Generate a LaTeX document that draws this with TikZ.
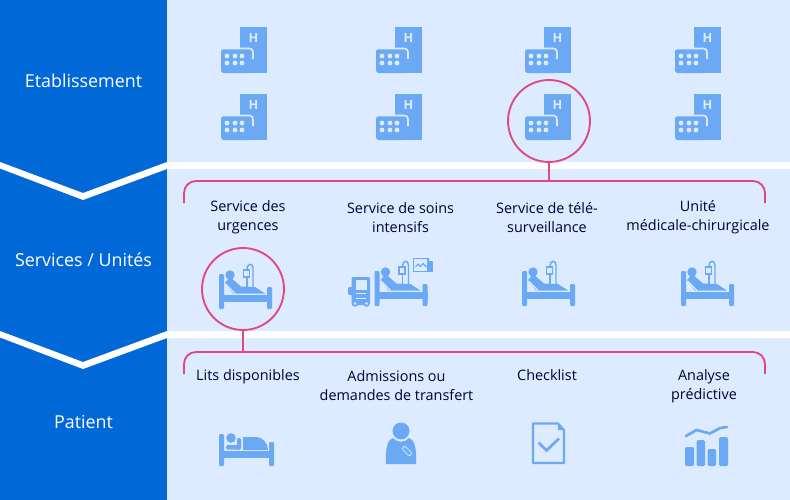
\documentclass[tikz,border=0pt]{standalone}
\usepackage{fontspec}
\setmainfont{Open Sans}
\definecolor{band}{HTML}{0069D7}
\definecolor{pale}{HTML}{DCEBFF}
\definecolor{icon}{HTML}{6BA9F5}
\definecolor{rose}{HTML}{E0487F}
\tikzset{
  x=.75pt,y=-.75pt,
  lab/.style={font=\fontsize{10.8pt}{14.2pt}\selectfont,text=black!78!blue,align=center,inner sep=0pt},
  head/.style={font=\fontsize{13.4pt}{15pt}\selectfont,text=white,align=center,inner sep=0pt},
  ring/.style={circle,draw=rose,line width=1.4pt,minimum size=61.5pt,inner sep=0pt},
  brace/.style={draw=rose,line width=1.4pt,rounded corners=9pt},
  hospital/.pic={
    \fill[icon] (19,0) rectangle (46,46);
    \fill[icon,rounded corners=2pt] (0,46) -- (0,22) -- (31,22) -- (31,46) -- cycle;
    \draw[pale,line width=1.2pt,rounded corners=2.5pt] (-.5,21.5) -- (32,21.5) -- (32,32);
    \node[font=\fontsize{9.5pt}{10pt}\bfseries\selectfont,text=pale,inner sep=0pt] at (32.5,11) {H};
    \foreach \px in {6,14,21} \foreach \py in {29,36} \fill[pale] (\px,\py) circle (2.4);
  },
  bedframe/.pic={
    \fill[icon,rounded corners=.8pt] (0,11) rectangle (5,46);
    \fill[icon,rounded corners=.8pt] (48,24) rectangle (53,46);
    \fill[icon] (0,32) rectangle (53,39);
    \fill[icon] (11,12) circle (4.7);
    \fill[icon] (6,20) -- (11,14) -- (22,23.5) -- (36,24) -- (46,30.5) -- (14,30.5) -- cycle;
    \draw[pale,line width=.8pt] (6.5,21) -- (16,30.5);
    \draw[icon,line width=1.1pt] (28,14) -- (28,26);
    \draw[icon,line width=1.1pt] (28,6) .. controls (28,0) and (34,0) .. (34,5) -- (34,25);
    \draw[icon,line width=1.1pt,fill=pale] (24.5,7) rectangle (30.5,14);
  },
  hbed/.pic={
    \fill[icon,rounded corners=.8pt] (0,0) rectangle (5,32);
    \fill[icon,rounded corners=.8pt] (50,8) rectangle (55,32);
    \fill[icon] (0,17) rectangle (55,24);
    \fill[icon] (12,4) circle (4.8);
    \fill[icon,rounded corners=1pt] (7,11) rectangle (22,15.5);
    \fill[icon,rounded corners=1pt] (18,4) rectangle (22,15.5);
    \fill[icon] (24,3) -- (36,3) .. controls (44,3) and (49,9) .. (49,16) -- (24,16) -- cycle;
  },
}
\begin{document}
\begin{tikzpicture}
\useasboundingbox (0,0) rectangle (790,500);
\fill[band] (0,0) rectangle (167,500);
\fill[pale] (167,0) rectangle (790,500);
% separators
\fill[white] (0,162) -- (83,193) -- (167,162) -- (790,162) -- (790,169) -- (167,169) -- (83,200) -- (0,168.5) -- cycle;
\fill[white] (0,331) -- (83,362) -- (167,331) -- (790,331) -- (790,338) -- (167,338) -- (83,369) -- (0,337.5) -- cycle;
% left labels
\node[head] (h1) at (83.5,81) {Etablissement};
\node[head] (h2) at (83.5,260) {Services / Unités};
\node[head] (h3) at (83.5,422) {Patient};
% hospitals
\foreach \hx in {221,376,525,675} \foreach \hy in {27,94}
  \pic at (\hx,\hy) {hospital};
% beds
\pic at (219,263) {bedframe};
\pic at (374.5,260) {bedframe};
\pic at (522,260) {bedframe};
\pic at (681,260) {bedframe};
% monitor
\draw[icon,line width=1.1pt,fill=pale] (413.5,258.5) rectangle (428,271.5);
\draw[icon,line width=.8pt] (415.5,267) -- (418,264) -- (420.5,266.5) -- (423,263.5) -- (426.5,267);
\fill[icon] (429,261) rectangle (432.5,272);
% dialysis machine
\fill[icon,rounded corners=1.5pt] (351.5,277) rectangle (370,305);
\fill[pale] (356,279.5) rectangle (366.5,290);
\fill[icon,rounded corners=1pt] (348,287) rectangle (353,295);
\draw[pale,line width=.6pt] (356,293) -- (366,293);
\draw[pale,line width=.6pt] (356,298) -- (366,298);
\fill[icon] (355,303.5) circle (3.3);
\fill[icon] (366.5,303.5) circle (3.3);
\fill[pale] (355,303.5) circle (1.4);
\fill[pale] (366.5,303.5) circle (1.4);
% patient row icons
\pic at (219,434) {hbed};
% person
\fill[icon] (401,431) circle (8.5);
\fill[icon] (386,464) .. controls (385,448) and (388,439) .. (393,438) .. controls (397,443) and (405,443) .. (409,438) .. controls (414,439) and (417,448) .. (416,464) -- cycle;
\draw[pale,line width=.6pt,rounded corners=1.5pt,rotate around={-45:(407,451)}] (401.5,449) rectangle (412.5,453);
% checklist
\draw[icon,line width=1.6pt,line join=round] (533,423.5) -- (558,423.5) -- (564,430) -- (564,463) -- (533,463) -- cycle;
\fill[icon] (558,423.5) -- (564,430) -- (558,430) -- cycle;
\draw[icon,line width=2pt] (538.5,442.5) -- (546.5,450.5) -- (559,438.5);
% chart
\fill[icon,rounded corners=1pt] (685,466) -- (685,447) -- (694,447) -- (694,466) -- cycle;
\fill[icon,rounded corners=1pt] (696.5,466) -- (696.5,440) -- (705,440) -- (705,466) -- cycle;
\fill[icon,rounded corners=1pt] (707.5,466) -- (707.5,449) -- (716,449) -- (716,466) -- cycle;
\fill[icon,rounded corners=1pt] (719,466) -- (719,437) -- (728,437) -- (728,466) -- cycle;
\draw[icon,line width=2pt,line cap=round] (686,436) -- (696.5,430) -- (710,433.5) -- (720,428) -- (727,427);
% rose
\node[ring] (r1) at (549,121) {};
\node[ring] (r2) at (243,289) {};
\coordinate (b1) at (549,181);
\coordinate (b2) at (243,352);
\draw[brace] (184,203) -- (184,181) -- (765,181) -- (765,203);
\draw[brace] (184,374) -- (184,352) -- (765,352) -- (765,374);
\draw[rose,line width=1.4pt] (r1.south) -- (b1);
\draw[rose,line width=1.4pt] (r2.south) -- (b2);
% labels
\node[lab] (a1) at (248,217.5) {Service des\\urgences};
\node[lab] (a2) at (400.5,217.5) {Service de soins\\intensifs};
\node[lab] (a3) at (547,217.5) {Service de télé-\\surveillance};
\node[lab] (a4) at (698,217.5) {Unité\\médicale-chirurgicale};
\node[lab,anchor=north] (p1) at (248,369.5) {Lits disponibles};
\node[lab] (p2) at (396.5,386) {Admissions ou\\demandes de transfert};
\node[lab,anchor=north] (p3) at (547,369.5) {Checklist};
\node[lab] (p4) at (704,386) {Analyse\\prédictive};
\end{tikzpicture}
\end{document}
